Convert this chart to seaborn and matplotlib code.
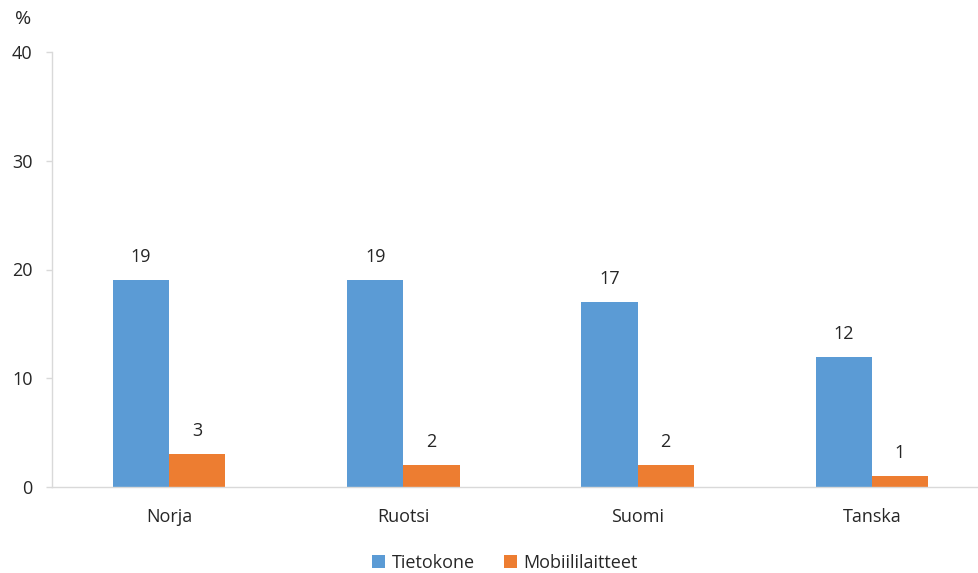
import matplotlib
matplotlib.use("Agg")
import matplotlib.pyplot as plt
import seaborn as sns
import pandas as pd

countries = ["Norja", "Ruotsi", "Suomi", "Tanska"]
tietokone = [19, 19, 17, 12]
mobiili = [3, 2, 2, 1]
series_names = ["Tietokone", "Mobiililaitteet"]
colors = ["#5B9BD5", "#ED7D31"]
y_ticks = [0, 10, 20, 30, 40]

df = pd.DataFrame({
    "maa": countries * 2,
    "osuus": tietokone + mobiili,
    "laite": [series_names[0]] * len(countries) + [series_names[1]] * len(countries),
})

sns.set_theme(style="white")
plt.rcParams["font.family"] = ["Open Sans", "DejaVu Sans"]

fig = plt.figure(figsize=(9.79, 5.73), dpi=100)
ax = fig.add_axes([52 / 979, 1 - 487 / 573, 937 / 979, (487 - 52) / 573])

sns.barplot(data=df, x="maa", y="osuus", hue="laite", palette=colors,
            width=0.48, ax=ax, saturation=1, legend=True,
            edgecolor="none", linewidth=0)

for cont in ax.containers:
    ax.bar_label(cont, labels=[f"{v:g}" for v in cont.datavalues],
                 padding=10, fontsize=13, color="#262626")

ax.set_ylim(0, 40)
ax.set_xlim(-0.5, 3.5)
ax.set_yticks(y_ticks)
ax.set_xlabel("")
ax.set_ylabel("")
ax.tick_params(axis="y", labelsize=13, colors="#262626", length=4, width=1,
               color="#D9D9D9", pad=10, left=True)
ax.tick_params(axis="x", labelsize=13, colors="#262626", length=0, pad=15)
for lbl in ax.get_xticklabels() + ax.get_yticklabels():
    lbl.set_color("#262626")

for side in ["top", "right"]:
    ax.spines[side].set_visible(False)
for side in ["left", "bottom"]:
    ax.spines[side].set_color("#D9D9D9")
    ax.spines[side].set_linewidth(1)

handles, labels = ax.get_legend_handles_labels()
ax.legend_.remove()
fig.legend(handles, labels, loc="center", bbox_to_anchor=(505 / 979, 1 - 563 / 573),
           ncol=2, frameon=False, fontsize=13, handlelength=0.75, handleheight=0.75,
           handletextpad=0.35, columnspacing=1.6, labelcolor="#262626")

fig.text(15 / 979, 1 - 19 / 573, "%", fontsize=14, color="#262626", va="center", ha="left")

fig.savefig("out.png", dpi=100)
